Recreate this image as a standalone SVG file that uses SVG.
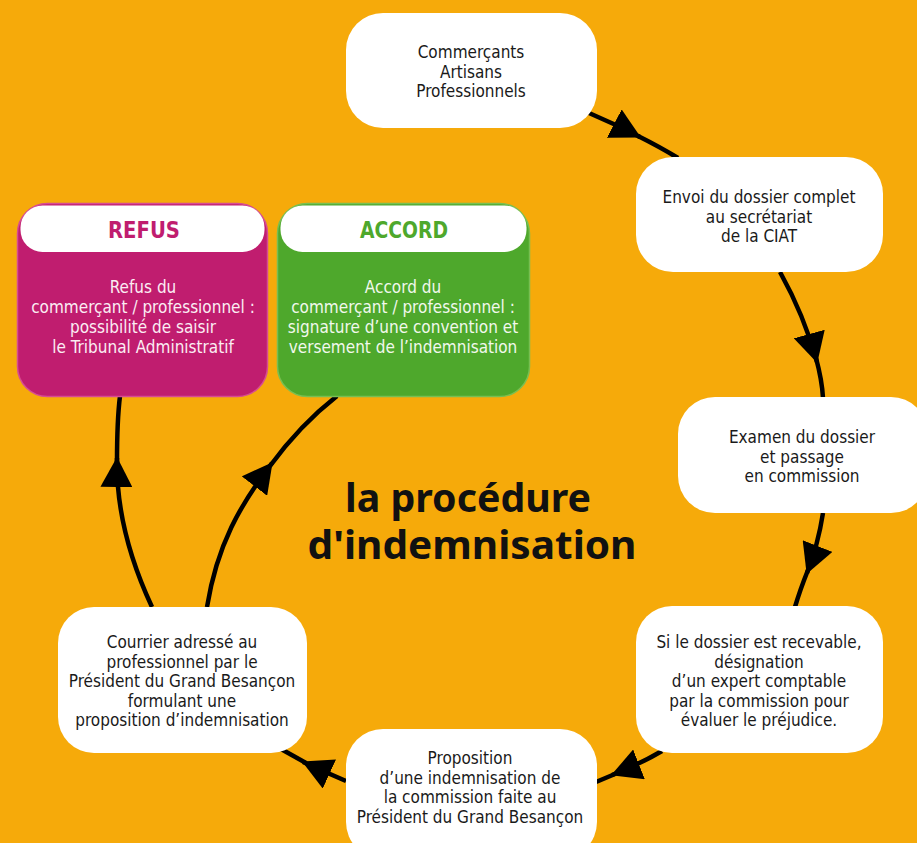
<svg xmlns="http://www.w3.org/2000/svg" width="917" height="843" viewBox="0 0 917 843">
<style>
.bg{fill:#F6AA0A}
.box{fill:#FFFFFF}
.t{font-family:"DejaVu Sans Condensed","DejaVu Sans","Liberation Sans",sans-serif;font-stretch:condensed;font-size:17px;fill:#1A1A1A;text-anchor:middle}
.tw{font-family:"DejaVu Sans Condensed","DejaVu Sans","Liberation Sans",sans-serif;font-stretch:condensed;font-size:17px;text-anchor:middle}
.hd{font-family:"DejaVu Sans Condensed","DejaVu Sans","Liberation Sans",sans-serif;font-stretch:condensed;font-size:23px;font-weight:bold;text-anchor:middle}
.title{font-family:"Noto Sans","DejaVu Sans",sans-serif;font-size:40px;font-weight:bold;fill:#111;text-anchor:middle}
.con{fill:none;stroke:#000;stroke-width:4.5;stroke-linecap:butt}
</style>
<defs>
<marker id="ah" markerUnits="userSpaceOnUse" viewBox="0 0 30 32" refX="29" refY="16" markerWidth="30" markerHeight="32" orient="auto">
<path d="M0,0 L30,16 L0,32 Z" fill="#000"/>
</marker>
</defs>
<rect class="bg" x="0" y="0" width="917" height="843"/>

<g id="connectors">
<path class="con" d="M589,113 Q615,124 640,137" marker-end="url(#ah)"/>
<path class="con" d="M638,136 Q660,147 678,158"/>
<path class="con" d="M780,272 Q804,315 817,362" marker-end="url(#ah)"/>
<path class="con" d="M816,358 Q822,380 823,398"/>
<path class="con" d="M823,513 Q818,545 807,573" marker-end="url(#ah)"/>
<path class="con" d="M808,570 Q800,590 795,607"/>
<path class="con" d="M662,751 Q640,764 612,775" marker-end="url(#ah)"/>
<path class="con" d="M615,774 L596,782"/>
<path class="con" d="M346,781 Q325,772 303,762" marker-end="url(#ah)"/>
<path class="con" d="M306,763 L281,749"/>
<path class="con" d="M152,607 C130,560 116,510 117,458" marker-end="url(#ah)"/>
<path class="con" d="M117,462 Q117,420 120,396"/>
<path class="con" d="M207,607 C217,545 240,505 272,463" marker-end="url(#ah)"/>
<path class="con" d="M270,466 Q300,425 337,396"/>
</g>

<g id="n1">
<rect class="box" x="346" y="13" width="251" height="115" rx="37"/>
<text class="t" x="471" y="58">Commerçants</text>
<text class="t" x="471" y="77.5">Artisans</text>
<text class="t" x="471" y="97">Professionnels</text>
</g>

<g id="n2">
<rect class="box" x="636" y="157" width="247" height="115" rx="37"/>
<text class="t" x="759" y="203">Envoi du dossier complet</text>
<text class="t" x="759" y="222.5">au secrétariat</text>
<text class="t" x="759" y="242">de la CIAT</text>
</g>

<g id="n3">
<rect class="box" x="678" y="397" width="250" height="116" rx="37"/>
<text class="t" x="802" y="443">Examen du dossier</text>
<text class="t" x="802" y="462.5">et passage</text>
<text class="t" x="802" y="482">en commission</text>
</g>

<g id="n4">
<rect class="box" x="636" y="606" width="247" height="147" rx="36"/>
<text class="t" x="759" y="648">Si le dossier est recevable,</text>
<text class="t" x="759" y="667.5">désignation</text>
<text class="t" x="759" y="687">d’un expert comptable</text>
<text class="t" x="759" y="706.5">par la commission pour</text>
<text class="t" x="759" y="726">évaluer le préjudice.</text>
</g>

<g id="n5">
<rect class="box" x="346" y="729" width="251" height="130" rx="37"/>
<text class="t" x="470" y="764">Proposition</text>
<text class="t" x="470" y="783.5">d’une indemnisation de</text>
<text class="t" x="470" y="803">la commission faite au</text>
<text class="t" x="470" y="822.5">Président du Grand Besançon</text>
</g>

<g id="n6">
<rect class="box" x="58" y="607" width="249" height="146" rx="36"/>
<text class="t" x="182" y="648">Courrier adressé au</text>
<text class="t" x="182" y="667.5">professionnel par le</text>
<text class="t" x="182" y="687">Président du Grand Besançon</text>
<text class="t" x="182" y="706.5">formulant une</text>
<text class="t" x="182" y="726">proposition d’indemnisation</text>
</g>

<g id="refus">
<rect x="17.5" y="203.5" width="250" height="193" rx="30" fill="#C01D6F" stroke="#D64C92" stroke-width="1.5"/>
<rect x="20.5" y="205.5" width="244" height="46.5" rx="22" fill="#FFFFFF"/>
<text class="hd" x="144" y="238" fill="#C01D6F" textLength="72" lengthAdjust="spacingAndGlyphs">REFUS</text>
<text class="tw" x="143" y="293" fill="#FBEDF3">Refus du</text>
<text class="tw" x="143" y="313" fill="#FBEDF3">commerçant / professionnel :</text>
<text class="tw" x="143" y="332.5" fill="#FBEDF3">possibilité de saisir</text>
<text class="tw" x="143" y="352.5" fill="#FBEDF3">le Tribunal Administratif</text>
</g>

<g id="accord">
<rect x="277.5" y="203.5" width="252" height="193" rx="30" fill="#4EA82C" stroke="#78BF52" stroke-width="1.5"/>
<rect x="280.5" y="205.5" width="246" height="46.5" rx="22" fill="#FFFFFF"/>
<text class="hd" x="404" y="238" fill="#4EA82C" textLength="88" lengthAdjust="spacingAndGlyphs">ACCORD</text>
<text class="tw" x="403" y="293" fill="#F1F8EC">Accord du</text>
<text class="tw" x="403" y="313" fill="#F1F8EC">commerçant / professionnel :</text>
<text class="tw" x="403" y="332.5" fill="#F1F8EC">signature d’une convention et</text>
<text class="tw" x="403" y="352.5" fill="#F1F8EC">versement de l’indemnisation</text>
</g>

<g id="title">
<text class="title" x="468" y="512" textLength="246" lengthAdjust="spacingAndGlyphs">la procédure</text>
<text class="title" x="472" y="559" textLength="329" lengthAdjust="spacingAndGlyphs">d'indemnisation</text>
</g>
</svg>
